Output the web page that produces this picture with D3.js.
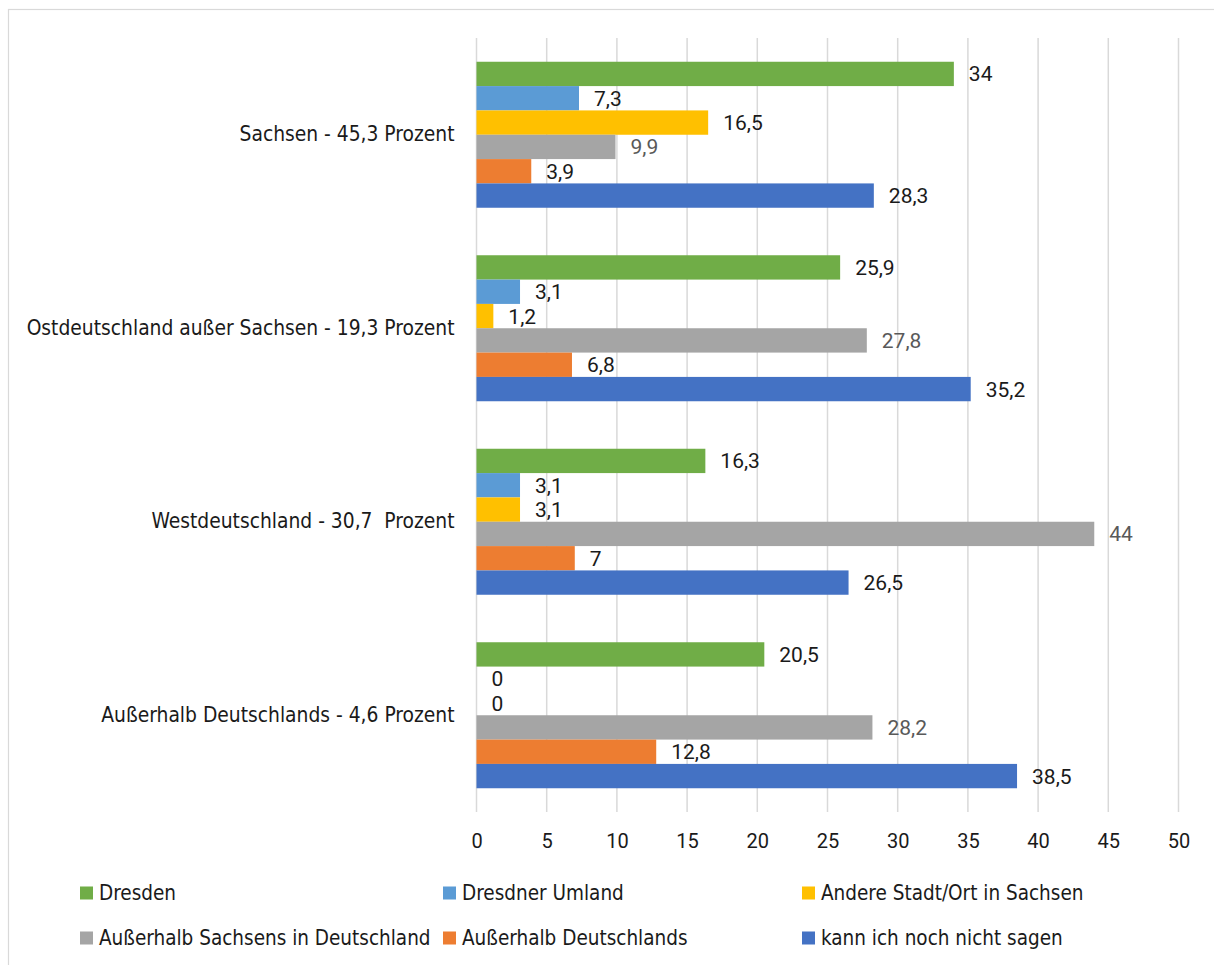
<!DOCTYPE html>
<html><head><meta charset="utf-8">
<script src="https://cdn.jsdelivr.net/npm/d3@7"></script>
<style>body{margin:0;background:#fff}svg{display:block}</style>
</head><body>
<script>
const categories = [
  "Sachsen - 45,3 Prozent",
  "Ostdeutschland außer Sachsen - 19,3 Prozent",
  "Westdeutschland - 30,7  Prozent",
  "Außerhalb Deutschlands - 4,6 Prozent"
];
const seriesNames = [
  "Dresden",
  "Dresdner Umland",
  "Andere Stadt/Ort in Sachsen",
  "Außerhalb Sachsens in Deutschland",
  "Außerhalb Deutschlands",
  "kann ich noch nicht sagen"
];
const dresden      = [34, 25.9, 16.3, 20.5];
const umland       = [7.3, 3.1, 3.1, 0];
const andere       = [16.5, 1.2, 3.1, 0];
const ausserSachs  = [9.9, 27.8, 44, 28.2];
const ausserDeutsch= [3.9, 6.8, 7, 12.8];
const kannNicht    = [28.3, 35.2, 26.5, 38.5];
const seriesValues = [dresden, umland, andere, ausserSachs, ausserDeutsch, kannNicht];
const colors = ["#70ad47","#5b9bd5","#ffc000","#a5a5a5","#ed7d31","#4472c4"];
const labelColors = ["#1a1a1a","#1a1a1a","#1a1a1a","#595959","#1a1a1a","#1a1a1a"];
const xTicks = [0,5,10,15,20,25,30,35,40,45,50];

const W = 1214, H = 965;
const svg = d3.select("body").append("svg").attr("width", W).attr("height", H);
svg.append("rect").attr("x",8.5).attr("y",9.5).attr("width",1300).attr("height",1100)
  .attr("fill","none").attr("stroke","#d9d9d9").attr("stroke-width",1.2);

const x = d3.scaleLinear().domain([0,50]).range([476.5, 1178.5]);
const y0 = d3.scaleBand().domain(categories).range([38, 812]);
const padG = (y0.bandwidth() - 146) / 2;
const y1 = d3.scaleBand().domain(seriesNames).range([padG, y0.bandwidth() - padG]);

const numFont = "Roboto, 'Liberation Sans', sans-serif";
const txtFont = "'DejaVu Sans Condensed', 'Open Sans', sans-serif";

// grid
svg.append("g").selectAll("line").data(xTicks).join("line")
  .attr("x1", d => x(d)).attr("x2", d => x(d)).attr("y1", 38).attr("y2", 812)
  .attr("stroke", "#d9d9d9").attr("stroke-width", 1.5);

// x axis labels
const xAxis = d3.axisBottom(x).tickValues(xTicks).tickSize(0).tickPadding(0).tickFormat(d3.format("d"));
const xa = svg.append("g").attr("transform", "translate(0,834)").call(xAxis);
xa.select(".domain").remove();
xa.selectAll("text").attr("font-family", numFont).attr("font-size", 20).attr("fill", "#1a1a1a");

// category axis
const yAxis = d3.axisLeft(y0).tickSize(0).tickPadding(22);
const ya = svg.append("g").attr("transform", "translate(476.5,0)").call(yAxis);
ya.select(".domain").remove();
ya.selectAll("text").attr("font-family", txtFont).attr("font-size", 20.8).attr("fill", "#1a1a1a")
  .attr("xml:space", "preserve").style("white-space", "pre");

// bars
const groups = svg.append("g").selectAll("g").data(categories).join("g")
  .attr("transform", d => `translate(0,${y0(d)})`);
groups.each(function(cat, ci) {
  const g = d3.select(this);
  seriesNames.forEach((s, si) => {
    const v = seriesValues[si][ci];
    g.append("rect").attr("x", x(0)).attr("y", y1(s)).attr("width", x(v) - x(0)).attr("height", y1.bandwidth())
      .attr("fill", colors[si]);
    g.append("text").attr("x", x(v) + 15).attr("y", y1(s) + y1.bandwidth()/2).attr("dy", "0.36em")
      .attr("font-family", numFont).attr("font-size", 21).attr("fill", labelColors[si])
      .text(d3.format(".1~f")(v).replace(".", ","));
  });
});

// legend
const legPos = [[80,893],[443,893],[802,893],[80,938],[443,938],[802,938]];
const leg = svg.append("g").selectAll("g").data(seriesNames).join("g")
  .attr("transform", (d,i) => `translate(${legPos[i][0]},${legPos[i][1]})`);
leg.append("rect").attr("x",0).attr("y",-6.5).attr("width",13).attr("height",13).attr("fill",(d,i)=>colors[i]);
leg.append("text").attr("x",19).attr("y",0).attr("dy","0.36em")
  .attr("font-family", txtFont).attr("font-size", 20.5).attr("fill","#1a1a1a").text(d => d);
</script>
</body></html>
